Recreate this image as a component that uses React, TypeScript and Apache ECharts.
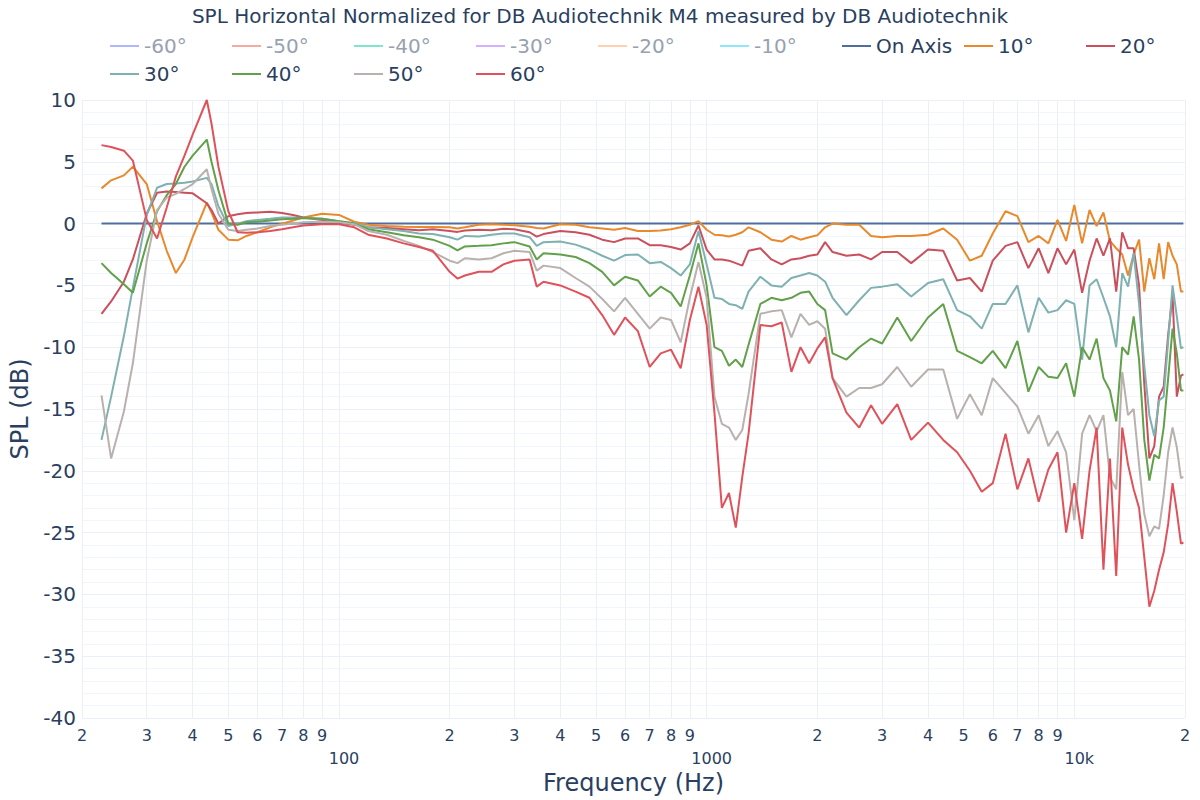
import React, { useEffect, useRef } from 'react';
import * as echarts from 'echarts';

const TITLE = 'SPL Horizontal Normalized for DB Audiotechnik M4 measured by DB Audiotechnik';

const FREQ = [
  22.6, 24, 26, 27.5, 30, 32, 34, 36, 38, 40, 43.7, 45, 47, 50, 53, 56, 60, 65, 70, 75, 80, 90, 100,
  110, 120, 135, 150, 165, 180, 200, 210, 220, 240, 260, 280, 300, 330, 345, 360, 400, 440, 480, 520, 560, 600, 650, 700, 750, 800, 850, 900, 950, 1000,
  1050, 1100, 1150, 1200, 1250, 1300, 1400, 1500, 1600, 1700, 1800, 1900, 2000, 2100, 2200, 2400, 2600, 2800, 3000,
  3300, 3600, 4000, 4400, 4800, 5200, 5600, 6000, 6500, 7000, 7500, 8000, 8500, 9000, 9500, 10000,
  10500, 11000, 11500, 12000, 12500, 13000, 13500, 14000, 14500, 15000, 15500, 16000, 16500, 17000, 17500, 18000, 18500, 19000, 19500, 19800,
];

const ON_AXIS_FREQ = [22.6, 19800];
const ON_AXIS = [0, 0];

const DEG10 = [
  2.85, 3.5, 3.9, 4.6, 3.2, 0.2, -2.2, -4.0, -2.9, -1.1, 1.7, 0.9, -0.5, -1.3, -1.35, -1.0, -0.7, -0.3, 0.0, 0.25, 0.5, 0.8, 0.7,
  0.15, -0.1, -0.2, -0.25, -0.27, -0.27, -0.3, -0.4, -0.3, -0.1, -0.05, -0.1, -0.13, -0.25, -0.35, -0.4, -0.05, -0.1, -0.3, -0.4, -0.5, -0.35, -0.6, -0.6, -0.55, -0.45, -0.3, -0.1, 0.2, -0.5,
  -0.9, -0.95, -1.05, -0.9, -0.7, -0.3, -0.7, -1.3, -1.45, -1.0, -1.3, -1.1, -0.95, -0.3, 0.0, -0.1, -0.1, -1.0, -1.1,
  -1.0, -1.0, -0.9, -0.4, -1.3, -3.0, -2.6, -0.8, 1.0, 0.6, -1.5, -1.0, -1.6, 0.3, -1.4, 1.5,
  -1.6, 1.1, -0.2, 0.9, -1.4, -2.0, -2.5, -4.2, -2.5, -1.3, -5.5, -2.8, -4.5, -1.6, -4.5, -1.5, -2.6, -3.3, -5.5, -5.5,
];

const DEG20 = [
  -7.3, -6.3, -4.7, -2.9, 0.8, 2.5, 2.6, 2.55, 2.5, 2.45, 1.65, 1.1, 0.0, 0.6, 0.75, 0.85, 0.9, 0.95, 0.85, 0.7, 0.5, 0.3, 0.1,
  -0.1, -0.3, -0.35, -0.45, -0.54, -0.45, -0.6, -0.67, -0.55, -0.5, -0.54, -0.42, -0.45, -0.7, -1.05, -0.85, -0.6, -0.7, -0.9, -1.3, -1.5, -1.2, -1.2, -1.75, -1.75, -1.9, -2.1, -1.6, -0.15, -2.1,
  -2.9, -2.9, -3.0, -3.2, -3.4, -2.2, -2.0, -2.9, -3.3, -2.9, -2.8, -2.6, -2.5, -1.5, -2.3, -2.6, -2.5, -2.9, -2.3,
  -2.3, -3.2, -2.1, -2.2, -4.6, -4.4, -5.5, -3.0, -1.8, -1.5, -3.6, -2.0, -4.0, -2.0, -3.3, -2.1,
  -5.6, -3.0, -1.2, -2.6, -1.2, -5.5, -0.7, -2.0, -2.0, -5.0, -13.0, -19.0, -18.0, -14.0, -13.2, -9.0, -5.8, -14.0, -12.3, -12.2,
];

const DEG30 = [
  -17.5, -14.0, -9.1, -5.2, 0.7, 2.9, 3.2, 3.25, 3.3, 3.4, 3.7, 3.2, 1.4, -0.2, 0.0, 0.2, 0.3, 0.4, 0.5, 0.5, 0.45, 0.4, 0.2,
  0.05, -0.3, -0.45, -0.6, -0.8, -0.85, -1.1, -1.3, -1.0, -1.05, -0.9, -0.8, -0.8, -1.1, -1.8, -1.5, -1.45, -1.7, -2.1, -2.6, -3.0, -2.55, -2.5, -3.2, -3.1, -3.6, -4.2, -3.3, -0.6, -3.3,
  -6.0, -6.1, -6.5, -6.6, -6.9, -5.5, -4.3, -5.0, -5.1, -4.4, -4.2, -4.0, -4.2, -4.7, -6.0, -7.4, -6.2, -5.2, -5.1,
  -4.9, -5.9, -4.8, -4.5, -7.0, -7.5, -8.5, -6.5, -6.5, -5.0, -8.8, -6.0, -7.2, -7.0, -6.2, -6.5,
  -11.0, -5.0, -4.5, -6.0, -7.5, -10.0, -4.0, -5.1, -2.4, -6.5, -11.5, -15.5, -17.2, -14.3, -14.0, -9.5, -5.0, -7.5, -10.1, -10.0,
];

const DEG40 = [
  -3.2, -4.0, -4.9, -5.6, -1.6, 1.0, 2.3, 3.2, 4.6, 5.5, 6.8, 5.0, 2.7, 0.0, -0.1, 0.1, 0.15, 0.25, 0.35, 0.4, 0.45, 0.4, 0.2,
  0.0, -0.45, -0.7, -0.95, -1.1, -1.3, -1.8, -2.16, -1.85, -1.8, -1.75, -1.6, -1.5, -1.85, -2.9, -2.4, -2.5, -2.7, -3.2, -3.9, -5.0, -4.3, -4.6, -5.9, -5.1, -5.6, -6.7, -4.2, -1.6, -5.0,
  -10.0, -10.3, -11.5, -11.0, -11.6, -9.8, -6.5, -6.0, -6.2, -6.0, -5.6, -5.5, -6.5, -7.0, -10.5, -11.0, -10.0, -9.3, -9.7,
  -7.6, -9.5, -7.6, -6.5, -10.3, -10.8, -11.3, -10.3, -11.7, -9.5, -13.6, -11.6, -12.4, -12.5, -11.3, -14.0,
  -10.0, -11.0, -9.3, -12.5, -13.5, -16.0, -10.0, -10.6, -7.5, -11.0, -17.5, -20.8, -18.7, -19.0, -16.5, -12.5, -8.5, -10.5, -13.5, -13.5,
];

const DEG50 = [
  -13.9, -19.0, -15.2, -11.3, -3.0, 1.1, 2.1, 2.4, 2.8, 3.2, 4.4, 2.8, 0.8, -0.5, -0.6, -0.5, -0.4, -0.2, -0.1, 0.0, 0.1, 0.15, 0.1,
  -0.05, -0.6, -0.9, -1.4, -1.8, -2.3, -3.0, -3.2, -2.8, -2.9, -2.8, -2.4, -2.2, -2.3, -3.8, -3.4, -3.6, -4.4, -5.1, -6.1, -7.1, -6.0, -7.3, -8.5, -7.6, -7.8, -9.6, -6.0, -3.1, -6.0,
  -14.0, -16.2, -16.5, -17.5, -16.7, -13.8, -7.3, -7.1, -7.0, -9.2, -7.3, -8.2, -7.9, -8.5, -12.5, -14.0, -13.3, -13.3, -13.0,
  -11.6, -13.2, -11.8, -11.8, -15.8, -13.8, -15.5, -12.5, -13.7, -14.8, -17.0, -15.5, -18.0, -16.8, -18.5, -24.0,
  -17.0, -15.5, -16.8, -15.5, -20.5, -21.5, -12.0, -15.5, -15.0, -19.5, -23.5, -25.3, -24.5, -24.7, -22.0, -18.5, -16.5, -18.1, -20.6, -20.5,
];

const DEG60 = [
  6.35, 6.2, 5.9, 5.1, 0.3, -1.2, 1.3, 3.8, 5.5, 7.2, 10.0, 8.1, 4.6, 1.0, -0.7, -0.75, -0.7, -0.6, -0.45, -0.3, -0.15, -0.05, -0.05,
  -0.3, -0.9, -1.2, -1.6, -1.9, -2.2, -3.9, -4.45, -4.2, -3.9, -3.9, -3.3, -3.0, -2.9, -5.1, -4.7, -5.0, -5.5, -6.0, -7.4, -9.0, -7.6, -8.7, -11.6, -10.5, -10.2, -11.7, -7.8, -5.1, -8.2,
  -15.3, -23.0, -21.8, -24.6, -20.5, -17.0, -8.2, -8.3, -8.0, -12.0, -10.0, -11.3, -10.1, -9.2, -12.5, -15.3, -16.5, -14.7, -16.2,
  -14.6, -17.5, -16.1, -17.5, -18.5, -20.0, -21.7, -21.0, -17.0, -21.5, -19.0, -22.5, -19.9, -18.5, -25.0, -21.0,
  -25.5, -20.0, -16.5, -28.0, -19.0, -28.5, -16.5, -19.5, -21.5, -23.0, -27.0, -31.0, -29.7, -28.0, -26.6, -24.3, -21.0, -23.3, -25.9, -25.8,
];

const HIDDEN_NAMES = ['-60°', '-50°', '-40°', '-30°', '-20°', '-10°'];
const HIDDEN_COLORS = ['#b1b7fd', '#f7aa9d', '#80e6cb', '#d5b1fd', '#ffd0ad', '#8ce9f9'];

const VISIBLE_NAMES = ['On Axis', '10°', '20°', '30°', '40°', '50°', '60°'];
const VISIBLE_COLORS = ['#4e6ea0', '#e8892c', '#c9505c', '#7eb1b0', '#62a04a', '#b9b1ae', '#e0525a'];

const X_TICK_VALUES = [
  20, 30, 40, 50, 60, 70, 80, 90, 100, 200, 300, 400, 500, 600, 700, 800, 900, 1000,
  2000, 3000, 4000, 5000, 6000, 7000, 8000, 9000, 10000, 20000,
];
const X_TICK_LABELS = [
  '2', '3', '4', '5', '6', '7', '8', '9', '', '2', '3', '4', '5', '6', '7', '8', '9', '',
  '2', '3', '4', '5', '6', '7', '8', '9', '', '2',
];
const X_DECADE_VALUES = [100, 1000, 10000];
const X_DECADE_LABELS = ['100', '1000', '10k'];

const TEXT = '#2a3f5f';
const FONT = 'DejaVu Sans';

export default function App() {
  const ref = useRef<HTMLDivElement>(null);

  useEffect(() => {
    if (!ref.current) return;
    const chart = echarts.init(ref.current, null, { renderer: 'svg' });

    const pair = (xs: number[], ys: number[]) => xs.map((f, i) => [f, ys[i]]);
    const visibleData = [
      pair(ON_AXIS_FREQ, ON_AXIS),
      pair(FREQ, DEG10),
      pair(FREQ, DEG20),
      pair(FREQ, DEG30),
      pair(FREQ, DEG40),
      pair(FREQ, DEG50),
      pair(FREQ, DEG60),
    ];

    const series: any[] = [];
    HIDDEN_NAMES.forEach((name, i) => {
      series.push({
        name,
        type: 'line',
        data: [],
        color: HIDDEN_COLORS[i],
        itemStyle: { color: HIDDEN_COLORS[i] },
        lineStyle: { color: HIDDEN_COLORS[i], width: 2 },
        showSymbol: false,
      });
    });
    VISIBLE_NAMES.forEach((name, i) => {
      series.push({
        name,
        type: 'line',
        data: visibleData[i],
        color: VISIBLE_COLORS[i],
        itemStyle: { color: VISIBLE_COLORS[i] },
        lineStyle: { color: VISIBLE_COLORS[i], width: 2 },
        showSymbol: false,
        symbol: 'none',
        smooth: false,
      });
    });

    const legendData = [
      ...HIDDEN_NAMES.map((name) => ({ name, textStyle: { color: '#97a1b0' } })),
      ...VISIBLE_NAMES.map((name) => ({ name })),
    ];

    chart.setOption({
      animation: false,
      backgroundColor: '#ffffff',
      textStyle: { fontFamily: FONT },
      title: {
        text: TITLE,
        left: 'center',
        top: 1,
        textStyle: { fontSize: 20, fontWeight: 'normal', color: TEXT, fontFamily: FONT },
      },
      legend: {
        left: 105,
        top: 30,
        width: 1095,
        orient: 'horizontal',
        icon: 'rect',
        itemWidth: 29,
        itemHeight: 2,
        itemGap: 6,
        textStyle: { fontSize: 20, color: TEXT, fontFamily: FONT, width: 82, lineHeight: 22 },
        data: legendData,
      },
      grid: { left: 80, right: 15, top: 100, bottom: 82, containLabel: false },
      xAxis: [
        {
          type: 'log',
          logBase: 10,
          min: 20,
          max: 20000,
          name: 'Frequency (Hz)',
          nameLocation: 'middle',
          nameGap: 53,
          nameTextStyle: { fontSize: 24, color: TEXT, fontFamily: FONT },
          axisLine: { show: false },
          axisTick: { show: false, customValues: X_TICK_VALUES },
          axisLabel: {
            customValues: X_TICK_VALUES,
            fontSize: 16,
            color: TEXT,
            fontFamily: FONT,
            margin: 9,
            formatter: (v: number) => {
              const idx = X_TICK_VALUES.findIndex((t) => Math.abs(t - v) / t < 1e-6);
              return idx >= 0 ? X_TICK_LABELS[idx] : '';
            },
          },
          splitLine: { show: true, lineStyle: { color: '#ebf0f8', width: 1 } },
        },
        {
          type: 'log',
          logBase: 10,
          min: 20,
          max: 20000,
          position: 'bottom',
          offset: 0,
          axisLine: { show: false },
          axisTick: { show: false, customValues: X_DECADE_VALUES },
          splitLine: { show: false },
          axisLabel: {
            customValues: X_DECADE_VALUES,
            fontSize: 16,
            color: TEXT,
            fontFamily: FONT,
            margin: 32,
            padding: [0, 0, 0, 10],
            formatter: (v: number) => {
              const idx = X_DECADE_VALUES.findIndex((t) => Math.abs(t - v) / t < 1e-6);
              return idx >= 0 ? X_DECADE_LABELS[idx] : '';
            },
          },
        },
      ],
      yAxis: {
        type: 'value',
        min: -40,
        max: 10,
        interval: 5,
        name: 'SPL (dB)',
        nameLocation: 'middle',
        nameGap: 50,
        nameTextStyle: { fontSize: 24, color: TEXT, fontFamily: FONT },
        axisLine: { show: false },
        axisTick: { show: false },
        axisLabel: { fontSize: 20, color: TEXT, fontFamily: FONT, margin: 6 },
        splitLine: { show: true, lineStyle: { color: '#ebf0f8', width: 1 } },
        minorTick: { show: false, splitNumber: 5 },
        minorSplitLine: { show: true, lineStyle: { color: '#f2f5fa', width: 1 } },
      },
      series,
    });

    return () => chart.dispose();
  }, []);

  return (
    <div
      ref={ref}
      style={{ position: 'absolute', left: 0, top: 0, width: 1200, height: 800, background: '#fff' }}
    />
  );
}
